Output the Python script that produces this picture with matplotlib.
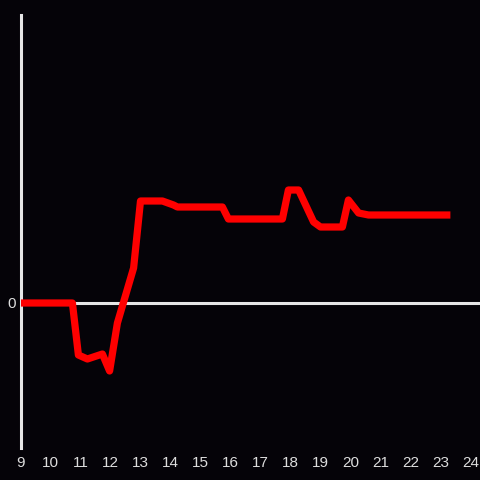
import matplotlib
matplotlib.use("Agg")
import matplotlib.pyplot as plt

plt.rcParams["font.family"] = ["Liberation Sans", "DejaVu Sans"]

# time of day (hours) and change values
hours = [9.0, 10.73, 10.93, 11.23, 11.73, 11.97, 12.23, 12.77, 13.0, 13.73,
         14.1, 14.23, 15.73, 15.93, 17.73, 17.93, 18.27, 18.77, 19.0, 19.73,
         19.93, 20.27, 20.6, 23.33]
change = [0.0, 0.0, -5.2, -5.6, -5.1, -6.8, -2.0, 3.5, 10.2, 10.2,
          9.8, 9.6, 9.6, 8.4, 8.4, 11.3, 11.3, 8.1, 7.6, 7.6,
          10.3, 9.0, 8.8, 8.8]
xticks = list(range(9, 25))

bg = "#050308"
fig = plt.figure(figsize=(4.8, 4.8), dpi=100, facecolor=bg)
ax = fig.add_axes([20.5/480, 32/480, 460/480, 433/480], facecolor=bg)

ax.axhline(0, color="#e6e6e6", lw=2.2, zorder=1)
ax.plot(hours, change, color="#ff0000", lw=5.2, zorder=3,
        solid_capstyle="butt", solid_joinstyle="round")

ax.set_xlim(9, 9 + 460/30)
ax.set_ylim(-14.5, 28.8)
ax.set_xticks(xticks)
ax.set_xticklabels([str(t) for t in xticks])
ax.set_yticks([0])
ax.set_yticklabels(["0"])
ax.tick_params(length=0, colors="#dddddd", labelsize=11)
ax.tick_params(axis="x", pad=6)
ax.tick_params(axis="y", pad=3)

for s in ["top", "right", "bottom"]:
    ax.spines[s].set_visible(False)
ax.spines["left"].set_color("#e6e6e6")
ax.spines["left"].set_linewidth(2.2)

fig.savefig("out.png", dpi=100, facecolor=bg)
